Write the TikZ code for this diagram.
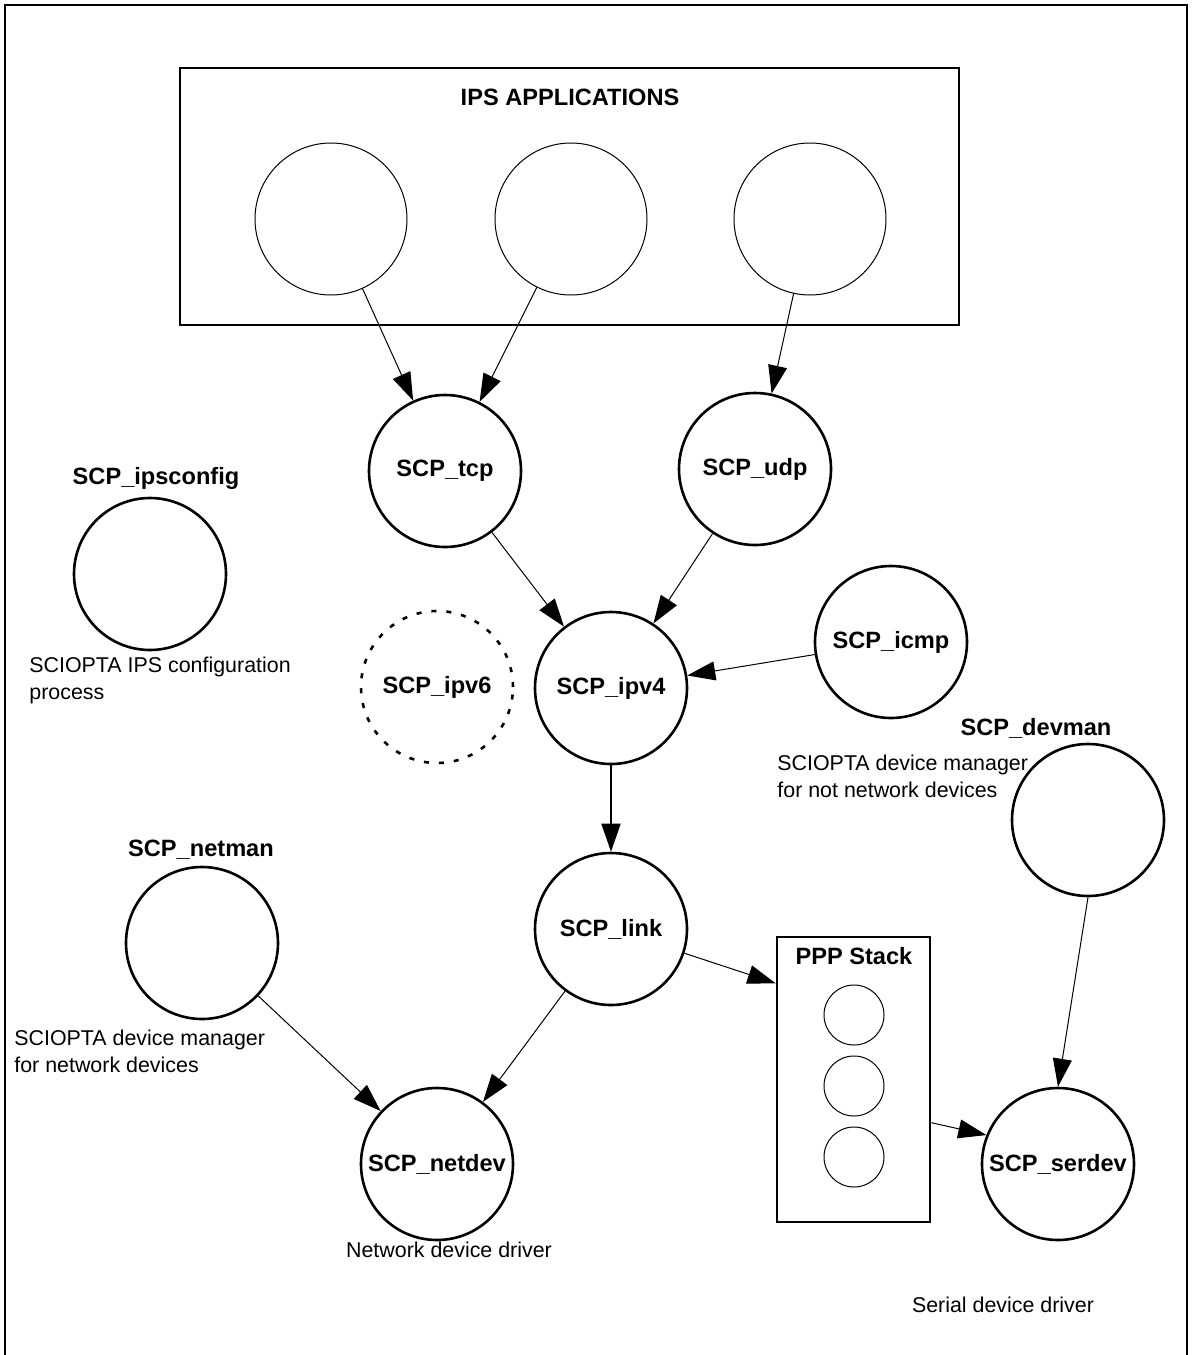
\documentclass[tikz,border=0pt]{standalone}
\usepackage{fontspec}
\setmainfont{Liberation Sans}
\usepackage{tikz}
\usetikzlibrary{arrows.meta}

\newcommand{\lblfont}{\fontsize{11.8}{14}\selectfont\bfseries}
\newcommand{\notefont}{\fontsize{10.7}{13.2}\selectfont}

\begin{document}
\begin{tikzpicture}[x=0.5pt, y=-0.5pt,
    proc/.style={circle, draw, line width=1.3pt, minimum size=76pt, inner sep=0pt, font=\lblfont},
    app/.style={circle, draw, line width=0.5pt, minimum size=76pt, inner sep=0pt},
    sub/.style={circle, draw, line width=0.5pt, minimum size=30pt, inner sep=0pt},
    group/.style={draw, line width=1.4pt, inner sep=0pt},
    title/.style={font=\lblfont, inner sep=0pt},
    note/.style={font=\notefont, align=left, inner sep=0pt},
    flow/.style={-{Triangle[length=14pt, width=9.5pt]}, line width=0.5pt}]
    \useasboundingbox (0,0) rectangle (1191,1355);

    % Outer frame
    \draw[line width=0.8pt] (5,1355) -- (5,5) -- (1187,5) -- (1187,1355);

    % IPS applications
    \node[group, minimum width=389.5pt, minimum height=128.5pt] (apps) at (569.5,196.5) {};
    \node[title] (appstitle) at (570,97) {IPS APPLICATIONS};
    \foreach \i/\x in {1/331, 2/571, 3/810} {
        \node[app] (app\i) at (\x,219) {};
    }

    % Protocol processes
    \node[proc] (tcp) at (445,471) {SCP\_tcp};
    \node[proc] (udp) at (755,469) {SCP\_udp};
    \node[proc] (ipv4) at (611,688) {SCP\_ipv4};
    \node[proc] (icmp) at (891,642) {SCP\_icmp};
    \node[proc, dash pattern=on 2.5pt off 5pt] (ipv6) at (437,687) {SCP\_ipv6};
    \node[proc] (link) at (611,929) {SCP\_link};
    \node[proc] (netdev) at (437,1164) {SCP\_netdev};
    \node[proc] (serdev) at (1058,1164) {SCP\_serdev};

    % Managers
    \node[proc] (ipsconfig) at (150,574) {};
    \node[title] (ipsconfiglbl) at (156,478) {SCP\_ipsconfig};
    \node[note, anchor=north west] (ipsconfignote) at (29,657) {SCIOPTA IPS configuration\\process};

    \node[proc] (netman) at (202,943) {};
    \node[title] (netmanlbl) at (201,850) {SCP\_netman};
    \node[note, anchor=north west] (netmannote) at (14,1030) {SCIOPTA device manager\\for network devices};

    \node[proc] (devman) at (1088,820) {};
    \node[title] (devmanlbl) at (1036,728) {SCP\_devman};
    \node[note, anchor=north west] (devmannote) at (777,755) {SCIOPTA device manager\\for not network devices};

    % Drivers
    \node[note] (netdevnote) at (449,1250) {Network device driver};
    \node[note] (serdevnote) at (1003,1305) {Serial device driver};

    % PPP stack
    \node[group, minimum width=76.5pt, minimum height=142.5pt] (ppp) at (853.5,1079.5) {};
    \node[title] (ppptitle) at (854,956) {PPP Stack};
    \foreach \i/\y in {1/1015, 2/1086, 3/1157} {
        \node[sub] (ppp\i) at (854,\y) {};
    }

    % Message flow
    \draw[flow] (app1) -- (tcp);
    \draw[flow] (app2) -- (tcp);
    \draw[flow] (app3) -- (udp);
    \draw[flow] (tcp) -- (ipv4);
    \draw[flow] (udp) -- (ipv4);
    \draw[flow] (icmp) -- (ipv4);
    \draw[flow, line width=0.9pt] (ipv4) -- (link);
    \draw[flow] (link) -- (netdev);
    \draw[flow] (netman) -- (netdev);
    \draw[flow] (link) -- (ppp.129);
    \draw[flow] (ppp.-29) -- (serdev.158);
    \draw[flow] (devman.south) -- (serdev.north);
\end{tikzpicture}
\end{document}
